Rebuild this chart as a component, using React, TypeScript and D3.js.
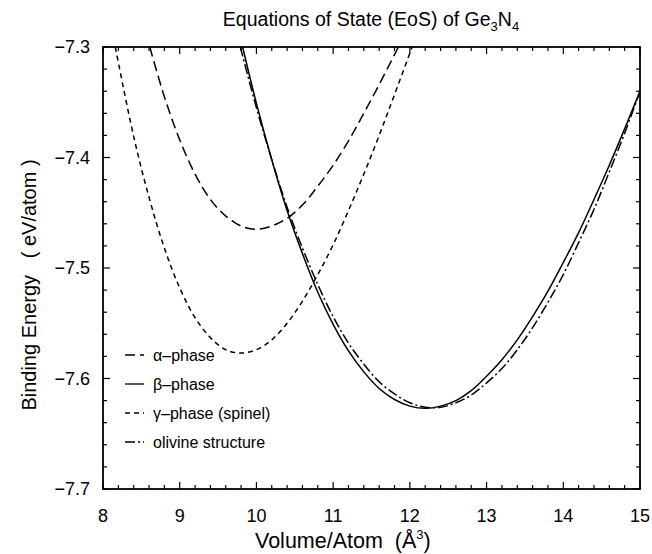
import React from "react";
import * as d3 from "d3";

const alphaV = [8.61, 8.8, 9.0, 9.2, 9.4, 9.6, 9.8, 10.0, 10.2, 10.4, 10.6, 10.8, 11.0, 11.2, 11.4, 11.6, 11.85];
const alphaE = [-7.300, -7.345, -7.384, -7.415, -7.438, -7.453, -7.462, -7.465, -7.462, -7.455, -7.443, -7.426, -7.407, -7.385, -7.360, -7.334, -7.300];

const betaV = [9.82, 10.0, 10.2, 10.4, 10.6, 10.8, 11.0, 11.2, 11.4, 11.6, 11.8, 12.0, 12.2, 12.4, 12.6, 12.8, 13.0, 13.2, 13.4, 13.6, 13.8, 14.0, 14.2, 14.4, 14.6, 14.8, 15.0];
const betaE = [-7.300, -7.351, -7.402, -7.448, -7.487, -7.522, -7.551, -7.575, -7.594, -7.609, -7.619, -7.625, -7.627, -7.625, -7.620, -7.611, -7.598, -7.583, -7.565, -7.544, -7.521, -7.495, -7.468, -7.438, -7.407, -7.374, -7.340];

const gammaV = [8.16, 8.4, 8.6, 8.8, 9.0, 9.2, 9.4, 9.6, 9.8, 10.0, 10.2, 10.4, 10.6, 10.8, 11.0, 11.2, 11.4, 11.6, 11.8, 12.03];
const gammaE = [-7.300, -7.381, -7.436, -7.482, -7.518, -7.545, -7.563, -7.574, -7.577, -7.574, -7.565, -7.550, -7.530, -7.506, -7.479, -7.448, -7.415, -7.380, -7.343, -7.300];

const olivV = [9.79, 10.0, 10.2, 10.4, 10.6, 10.8, 11.0, 11.2, 11.4, 11.6, 11.8, 12.0, 12.2, 12.4, 12.6, 12.8, 13.0, 13.2, 13.4, 13.6, 13.8, 14.0, 14.2, 14.4, 14.6, 14.8, 15.0];
const olivE = [-7.300, -7.355, -7.402, -7.445, -7.482, -7.515, -7.544, -7.568, -7.587, -7.603, -7.614, -7.622, -7.626, -7.626, -7.622, -7.615, -7.604, -7.591, -7.574, -7.554, -7.531, -7.506, -7.477, -7.447, -7.413, -7.378, -7.340];

const seriesNames = ["α–phase", "β–phase", "γ–phase (spinel)", "olivine structure"];
const seriesDash = ["10,5", "", "5,4", "10,3,2,3"];

const xTicks = [8, 9, 10, 11, 12, 13, 14, 15];
const yTicks = [-7.7, -7.6, -7.5, -7.4, -7.3];

const W = 652, H = 554;
const M = { left: 103, right: 640, top: 47, bottom: 489 };

export default function App() {
  const x = d3.scaleLinear().domain([8, 15]).range([M.left, M.right]);
  const y = d3.scaleLinear().domain([-7.7, -7.3]).range([M.bottom, M.top]);
  const fmt = d3.format(".1f");

  const series = [
    { v: alphaV, e: alphaE },
    { v: betaV, e: betaE },
    { v: gammaV, e: gammaE },
    { v: olivV, e: olivE },
  ];

  const line = d3
    .line<[number, number]>()
    .x((d) => x(d[0]))
    .y((d) => y(d[1]))
    .curve(d3.curveCatmullRom.alpha(0.5));

  const xMinor = d3.range(8, 15.001, 0.2);
  const yMinor = d3.range(-7.7, -7.2999, 0.02);
  const isMajorX = (v: number) => Math.abs(v - Math.round(v)) < 1e-6;
  const isMajorY = (v: number) => Math.abs(v * 10 - Math.round(v * 10)) < 1e-6;

  const font = "'Liberation Sans', Arial, Helvetica, sans-serif";
  const legendY = [355, 384, 413, 442];

  return (
    <svg width={W} height={H} style={{ position: "absolute", left: 0, top: 0, background: "#fff" }} fontFamily={font}>
      <defs>
        <clipPath id="plot">
          <rect x={M.left} y={M.top} width={M.right - M.left} height={M.bottom - M.top} />
        </clipPath>
      </defs>
      <rect x={0} y={0} width={W} height={H} fill="#fff" />
      {/* title */}
      <text x={371} y={26} textAnchor="middle" fontSize={19.5}>
        Equations of State (EoS) of Ge
        <tspan fontSize={13} dy={5}>3</tspan>
        <tspan dy={-5}>N</tspan>
        <tspan fontSize={13} dy={5}>4</tspan>
      </text>
      {/* curves */}
      <g clipPath="url(#plot)" fill="none" stroke="#000" strokeWidth={1.5}>
        {series.map((s, i) => (
          <path
            key={i}
            d={line(s.v.map((v, j) => [v, s.e[j]] as [number, number])) || ""}
            strokeDasharray={seriesDash[i] || undefined}
          />
        ))}
      </g>
      {/* ticks */}
      <g stroke="#000" strokeWidth={1.2}>
        {xMinor.map((v, i) => {
          const len = isMajorX(v) ? 7 : 4;
          return (
            <g key={"x" + i}>
              <line x1={x(v)} x2={x(v)} y1={M.bottom} y2={M.bottom - len} />
              <line x1={x(v)} x2={x(v)} y1={M.top} y2={M.top + len} />
            </g>
          );
        })}
        {yMinor.map((v, i) => {
          const len = isMajorY(v) ? 7 : 4;
          return (
            <g key={"y" + i}>
              <line x1={M.left} x2={M.left + len} y1={y(v)} y2={y(v)} />
              <line x1={M.right} x2={M.right - len} y1={y(v)} y2={y(v)} />
            </g>
          );
        })}
      </g>
      <rect x={M.left} y={M.top} width={M.right - M.left} height={M.bottom - M.top} fill="none" stroke="#000" strokeWidth={1.8} />
      {/* tick labels */}
      {xTicks.map((t) => (
        <text key={"xl" + t} x={x(t)} y={522} textAnchor="middle" fontSize={18}>
          {t}
        </text>
      ))}
      {yTicks.map((t) => (
        <text key={"yl" + t} x={90} y={y(t) + 6} textAnchor="end" fontSize={18}>
          {fmt(t)}
        </text>
      ))}
      {/* axis labels */}
      <text x={255} y={548} fontSize={21.5} style={{ whiteSpace: "pre" }}>
        {"Volume/Atom  (Å"}
        <tspan fontSize={13} dy={-9} dx={0}>3</tspan>
        <tspan dy={9} dx={0}>)</tspan>
      </text>
      <text transform={`translate(36,${285}) rotate(-90)`} textAnchor="middle" fontSize={20} style={{ whiteSpace: "pre" }}>
        {"Binding Energy   ( eV/atom )"}
      </text>
      {/* legend */}
      {seriesNames.map((n, i) => (
        <g key={"lg" + i}>
          <line x1={125} x2={144} y1={legendY[i]} y2={legendY[i]} stroke="#000" strokeWidth={1.3} strokeDasharray={seriesDash[i] || undefined} />
          <text x={153} y={legendY[i] + 5.5} fontSize={16}>
            {n}
          </text>
        </g>
      ))}
    </svg>
  );
}
